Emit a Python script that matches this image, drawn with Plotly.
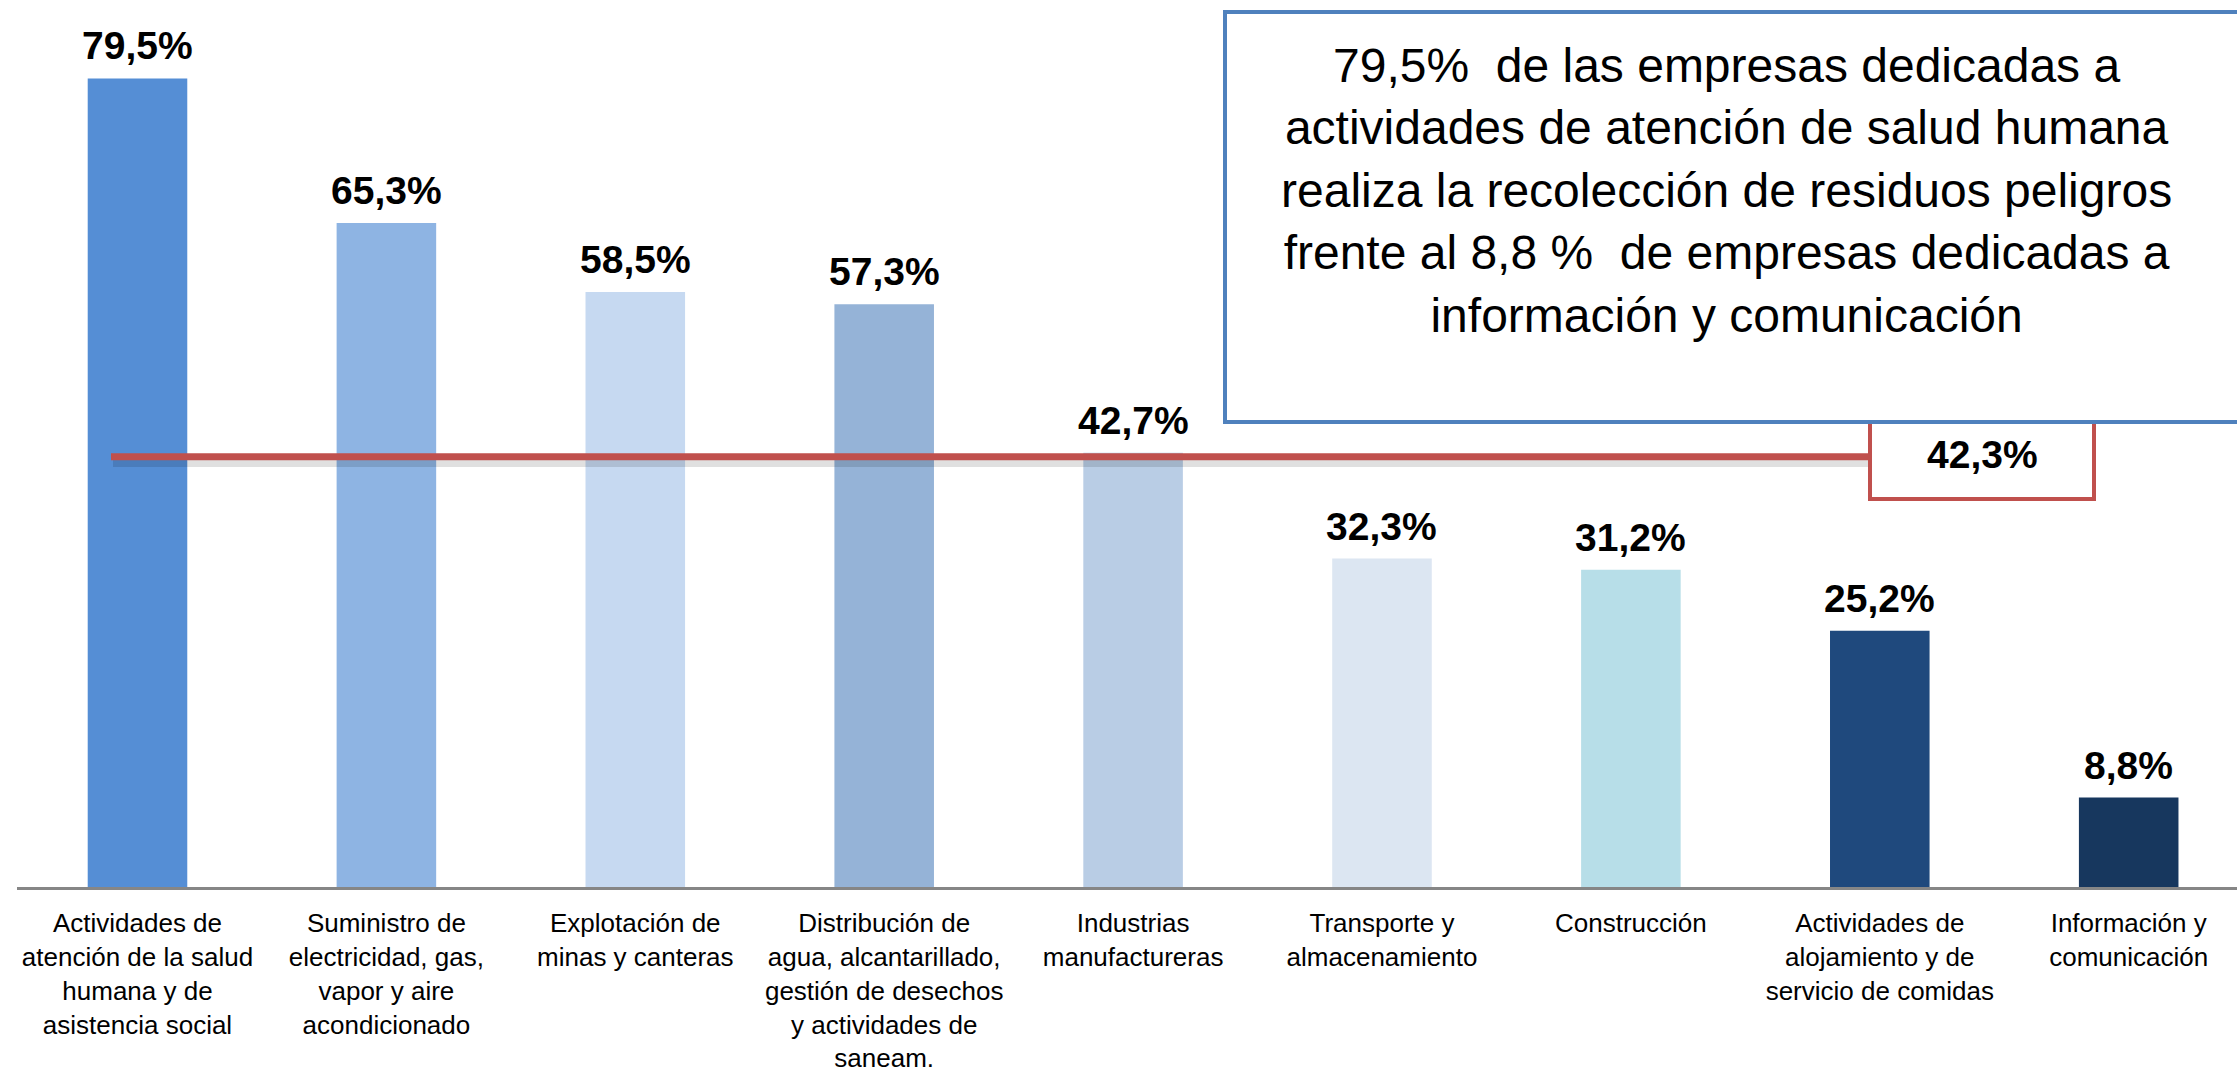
import plotly.graph_objects as go

categorias = [
    "Actividades de<br>atención de la salud<br>humana y de<br>asistencia social",
    "Suministro de<br>electricidad, gas,<br>vapor y aire<br>acondicionado",
    "Explotación de<br>minas y canteras",
    "Distribución de<br>agua, alcantarillado,<br>gestión de desechos<br>y actividades de<br>saneam.",
    "Industrias<br>manufactureras",
    "Transporte y<br>almacenamiento",
    "Construcción",
    "Actividades de<br>alojamiento y de<br>servicio de comidas",
    "Información y<br>comunicación",
]
porcentajes = [79.5, 65.3, 58.5, 57.3, 42.7, 32.3, 31.2, 25.2, 8.8]
colores = ["#558ED5", "#8EB4E3", "#C6D9F1", "#95B3D7", "#B9CDE5",
           "#DCE6F2", "#B7DEE8", "#1F497D", "#17375E"]
promedio = 42.3
texto_cuadro = ("79,5%  de las empresas dedicadas a<br>"
                "actividades de atención de salud humana<br>"
                "realiza la recolección de residuos peligros<br>"
                "frente al 8,8 %  de empresas dedicadas a<br>"
                "información y comunicación")

def fmt(v):
    return f"{v:.1f}".replace(".", ",") + "%"

FONT = "Liberation Sans, Arial, sans-serif"
W, H = 2237, 1079
ML, MB = 17, 192
plot_w, plot_h = W - ML, H - MB
PX_PER_UNIT = 10.17
x = list(range(len(categorias)))

fig = go.Figure()
fig.add_trace(go.Bar(
    x=x, y=porcentajes, width=0.4,
    marker=dict(color=colores, line=dict(width=0)),
    hoverinfo="skip",
))

def px_x(p):
    return (p - ML) / plot_w

def px_y(p):
    return (H - MB - p) / plot_h

shapes = []
# shadow of average line
shapes.append(dict(type="line", xref="paper", yref="y", x0=px_x(113), x1=px_x(1868),
                   y0=promedio - 0.5, y1=promedio - 0.5,
                   line=dict(color="rgba(0,0,0,0.12)", width=10), layer="above"))
shapes.append(dict(type="line", xref="paper", yref="y", x0=px_x(111), x1=px_x(1868),
                   y0=promedio, y1=promedio,
                   line=dict(color="#C0504D", width=7), layer="above"))
# average box
shapes.append(dict(type="rect", xref="paper", yref="paper", x0=px_x(1870), x1=px_x(2094),
                   y0=px_y(499), y1=px_y(400), fillcolor="white",
                   line=dict(color="#C0504D", width=4), layer="above"))
# text box
shapes.append(dict(type="rect", xref="paper", yref="paper", x0=px_x(1225), x1=px_x(2320),
                   y0=px_y(422), y1=px_y(12), fillcolor="white",
                   line=dict(color="#4F81BD", width=4), layer="above"))

annotations = [
    dict(x=xi, y=v, xref="x", yref="y", text="<b>" + fmt(v) + "</b>", showarrow=False,
         xanchor="center", yanchor="bottom", yshift=9,
         font=dict(family=FONT, size=39, color="black"))
    for xi, v in zip(x, porcentajes)
]
annotations += [
    dict(xref="paper", yref="paper", x=px_x(1982), y=px_y(455), text="<b>" + fmt(promedio) + "</b>",
         showarrow=False, font=dict(family=FONT, size=39, color="black"),
         xanchor="center", yanchor="middle"),
    dict(xref="paper", yref="paper", x=px_x(1726), y=px_y(190), text=texto_cuadro,
         showarrow=False, font=dict(family=FONT, size=48, color="black"),
         xanchor="center", yanchor="middle", align="center"),
]

fig.update_layout(
    template="none",
    width=W, height=H,
    margin=dict(l=ML, r=0, t=0, b=MB, pad=0, autoexpand=False),
    paper_bgcolor="white", plot_bgcolor="white",
    showlegend=False, bargap=0.6,
    shapes=shapes, annotations=annotations,
    font=dict(family=FONT, color="black"),
)
fig.update_xaxes(
    range=[-0.4841, -0.4841 + plot_w / 248.9],
    tickmode="array", tickvals=x, ticktext=categorias,
    tickfont=dict(family=FONT, size=26, color="black"),
    showline=True, linecolor="#868686", linewidth=3,
    showgrid=False, zeroline=False, ticks="", ticklabelstandoff=11,
    automargin=False,
)
fig.update_yaxes(range=[0, plot_h / PX_PER_UNIT], visible=False, showgrid=False,
                 zeroline=False, automargin=False)

fig.write_html("out.html", config={"displayModeBar": False},
               post_script="document.body.style.margin='0px';document.body.style.overflow='hidden';")
